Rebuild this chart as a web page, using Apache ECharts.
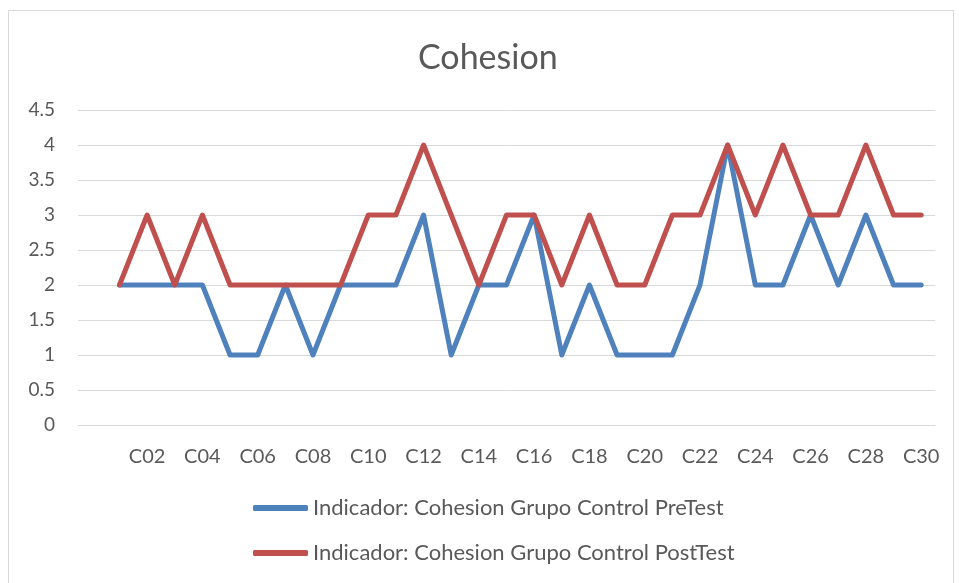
<!DOCTYPE html>
<html>
<head>
<meta charset="utf-8">
<script src="https://cdn.jsdelivr.net/npm/echarts@6/dist/echarts.min.js"></script>
<style>
  html, body { margin: 0; padding: 0; background: #fff; }
  #frame { position: absolute; left: 8px; top: 10px; width: 946px; height: 580px; border: 1px solid #d9d9d9; box-sizing: border-box; }
  #main { position: absolute; left: 0; top: 0; width: 959px; height: 583px; }
</style>
</head>
<body>
<div id="frame"></div>
<div id="main"></div>
<script>
// first category is empty (Excel left a blank slot before C01)
var categories = ["", "C01", "C02", "C03", "C04", "C05", "C06", "C07", "C08", "C09", "C10",
  "C11", "C12", "C13", "C14", "C15", "C16", "C17", "C18", "C19", "C20",
  "C21", "C22", "C23", "C24", "C25", "C26", "C27", "C28", "C29", "C30"];
var preTest = [null, 2, 2, 2, 2, 1, 1, 2, 1, 2, 2, 2, 3, 1, 2, 2, 3, 1, 2, 1, 1, 1, 2, 4, 2, 2, 3, 2, 3, 2, 2];
var postTest = [null, 2, 3, 2, 3, 2, 2, 2, 2, 2, 3, 3, 4, 3, 2, 3, 3, 2, 3, 2, 2, 3, 3, 4, 3, 4, 3, 3, 4, 3, 3];
var seriesNames = ["Indicador: Cohesion Grupo Control PreTest", "Indicador: Cohesion Grupo Control PostTest"];

var chart = echarts.init(document.getElementById("main"));
var font = "Lato, 'Liberation Sans', sans-serif";
var option = {
  animation: false,
  textStyle: { fontFamily: font },
  title: {
    text: "Cohesion",
    left: 413,
    top: 36,
    textStyle: { fontFamily: font, fontSize: 34, fontWeight: "normal", color: "#595959" }
  },
  legend: {
    orient: "vertical",
    left: 248,
    top: 492,
    itemWidth: 55,
    itemHeight: 6,
    itemGap: 23,
    icon: "roundRect",
    textStyle: { fontFamily: font, fontSize: 22, color: "#595959", padding: [0, 0, 0, 0] },
    data: seriesNames
  },
  grid: { left: 78, right: 24, top: 110, bottom: 158 },
  xAxis: {
    type: "category",
    data: categories,
    boundaryGap: true,
    axisLine: { lineStyle: { color: "#d9d9d9" } },
    axisTick: { show: false },
    axisLabel: { interval: 1, color: "#595959", fontSize: 20, fontFamily: font, margin: 22 }
  },
  yAxis: {
    type: "value",
    min: 0,
    max: 4.5,
    interval: 0.5,
    axisLine: { show: false },
    axisTick: { show: false },
    splitLine: { lineStyle: { color: "#d9d9d9", width: 1 } },
    axisLabel: { color: "#595959", fontSize: 19, fontFamily: font, margin: 23 }
  },
  series: [
    {
      name: seriesNames[0],
      type: "line",
      data: preTest,
      showSymbol: false,
      symbol: "none",
      lineStyle: { color: "#4F81BD", width: 5, cap: "round", join: "round" },
      itemStyle: { color: "#4F81BD" }
    },
    {
      name: seriesNames[1],
      type: "line",
      data: postTest,
      showSymbol: false,
      symbol: "none",
      lineStyle: { color: "#C0504D", width: 5, cap: "round", join: "round" },
      itemStyle: { color: "#C0504D" }
    }
  ]
};
chart.setOption(option);
</script>
</body>
</html>
